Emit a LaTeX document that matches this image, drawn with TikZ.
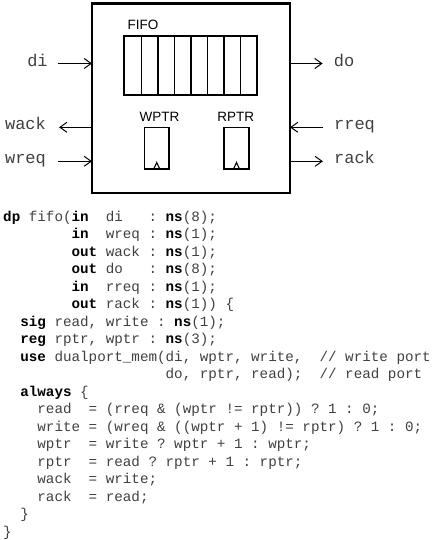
\documentclass[tikz,border=0pt]{standalone}
\usepackage{fontspec}
\setmainfont{Liberation Sans}
\setmonofont{Liberation Mono}
\usetikzlibrary{arrows.meta}
\newcommand{\kw}[1]{{\bfseries\color{black}#1}}
\begin{document}
\begin{tikzpicture}[x=1pt,y=-1pt,
  codeline/.style={anchor=mid west, inner sep=0pt, font=\ttfamily\fontsize{14.25}{17}\selectfont, text=black!75},
  portlbl/.style={anchor=mid, inner sep=0pt, font=\ttfamily\fontsize{17}{20}\selectfont, text=black!75},
  sanslbl/.style={inner sep=0pt, font=\fontsize{13.5}{16}\selectfont},
  thinbox/.style={draw, line width=1.3pt},
  arr/.style={line width=1pt, -{Straight Barb[length=7pt,width=10pt,line width=1pt]}}]
\useasboundingbox (0,0) rectangle (435,540);
% outer module box
\node[draw, line width=2.5pt, minimum width=198pt, minimum height=189.5pt, inner sep=0pt, outer sep=0pt] (box) at (191,98.25) {};
% FIFO
\node[sanslbl] (fifolbl) at (143,25) {FIFO};
\node[thinbox, minimum width=133pt, minimum height=59pt, inner sep=0pt, outer sep=0pt, anchor=north west] (fifo) at (124,36) {};
\foreach \xx in {141.5,158,174.5,191,207.5,224,240.5} {
  \draw[line width=1.3pt] (\xx,36) -- (\xx,95);
}
% pointers
\node[sanslbl] (wptrlbl) at (159.5,116.7) {WPTR};
\node[sanslbl] (rptrlbl) at (235.7,116.7) {RPTR};
\node[thinbox, minimum width=24.5pt, minimum height=41.5pt, inner sep=0pt, outer sep=0pt, anchor=north west] (wptr) at (144.5,127.5) {};
\node[thinbox, minimum width=25pt, minimum height=41.5pt, inner sep=0pt, outer sep=0pt, anchor=north west] (rptr) at (224,127.5) {};
\draw[line width=1.1pt] ([xshift=-3pt]wptr.south) -- ([yshift=6.5pt]wptr.south) -- ([xshift=3pt]wptr.south);
\draw[line width=1.1pt] ([xshift=-3pt]rptr.south) -- ([yshift=6.5pt]rptr.south) -- ([xshift=3pt]rptr.south);
% port labels
\node[portlbl] (di) at (37.5,63.5) {di};
\node[portlbl] (wack) at (25.5,127.3) {wack};
\node[portlbl] (wreq) at (25.5,161.3) {wreq};
\node[portlbl] (do) at (344,63.5) {do};
\node[portlbl] (rreq) at (354.5,127.3) {rreq};
\node[portlbl] (rack) at (354.5,161.3) {rack};
% port arrows
\draw[arr] ([xshift=10pt]di.mid east) -- (di.mid east -| box.west);
\draw[arr] (wack.mid east -| box.west) -- ([xshift=13pt]wack.mid east);
\draw[arr] ([xshift=12pt]wreq.mid east) -- (wreq.mid east -| box.west);
\draw[arr] (do.mid west -| box.east) -- ([xshift=-11pt]do.mid west);
\draw[arr] ([xshift=-11pt]rreq.mid west) -- (rreq.mid west -| box.east);
\draw[arr] (rack.mid west -| box.east) -- ([xshift=-11pt]rack.mid west);
% code
\node[codeline] (line1) at (3,218.5) {\kw{dp}~fifo(\kw{in}~~di~~~:~\kw{ns}(8);};
\node[codeline] (line2) at (3,236) {~~~~~~~~\kw{in}~~wreq~:~\kw{ns}(1);};
\node[codeline] (line3) at (3,253.5) {~~~~~~~~\kw{out}~wack~:~\kw{ns}(1);};
\node[codeline] (line4) at (3,271) {~~~~~~~~\kw{out}~do~~~:~\kw{ns}(8);};
\node[codeline] (line5) at (3,288.5) {~~~~~~~~\kw{in}~~rreq~:~\kw{ns}(1);};
\node[codeline] (line6) at (3,306) {~~~~~~~~\kw{out}~rack~:~\kw{ns}(1))~\{};
\node[codeline] (line7) at (3,323.5) {~~\kw{sig}~read,~write~:~\kw{ns}(1);};
\node[codeline] (line8) at (3,341) {~~\kw{reg}~rptr,~wptr~:~\kw{ns}(3);};
\node[codeline] (line9) at (3,358.5) {~~\kw{use}~dualport\_mem(di,~wptr,~write,~~//~write~port};
\node[codeline] (line10) at (3,376) {~~~~~~~~~~~~~~~~~~~do,~rptr,~read);~~//~read~port};
\node[codeline] (line11) at (3,393.5) {~~\kw{always}~\{};
\node[codeline] (line12) at (3,411) {~~~~read~~=~(rreq~\&~(wptr~!=~rptr))~?~1~:~0;};
\node[codeline] (line13) at (3,428.5) {~~~~write~=~(wreq~\&~((wptr~+~1)~!=~rptr)~?~1~:~0;};
\node[codeline] (line14) at (3,446) {~~~~wptr~~=~write~?~wptr~+~1~:~wptr;};
\node[codeline] (line15) at (3,463.5) {~~~~rptr~~=~read~?~rptr~+~1~:~rptr;};
\node[codeline] (line16) at (3,481) {~~~~wack~~=~write;};
\node[codeline] (line17) at (3,498.5) {~~~~rack~~=~read;};
\node[codeline] (line18) at (3,516) {~~\}};
\node[codeline] (line19) at (3,533.5) {\}};
\end{tikzpicture}
\end{document}
